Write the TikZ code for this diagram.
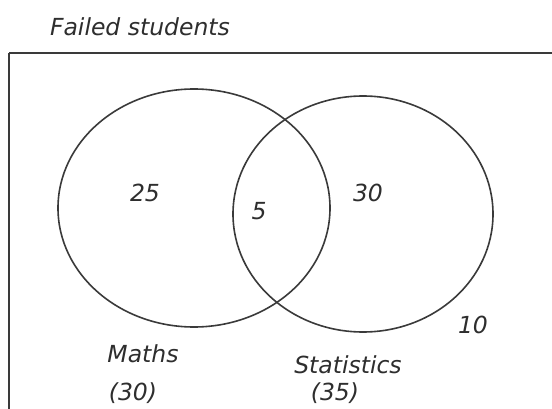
\documentclass[tikz,border=0pt]{standalone}
\usepackage{fontspec}
\setmainfont{DejaVu Sans}
\usetikzlibrary{shapes.geometric}
\definecolor{ink}{HTML}{2E2E2E}
\definecolor{lineink}{HTML}{3A3A3A}
\tikzset{
  lbl/.style={text=ink, font=\fontsize{23.5}{27}\selectfont\itshape, inner sep=0pt, anchor=center},
  setshape/.style={ellipse, draw=lineink, line width=1.6pt, inner sep=0pt},
  frame/.style={draw=lineink, line width=2.4pt}
}
\begin{document}
\begin{tikzpicture}[x=1pt,y=-1pt]
\useasboundingbox (0,0) rectangle (552,409);
\clip (0,0) rectangle (552,409);
\fill[white] (0,0) rectangle (552,409);
\draw[frame] (9,53) -- (600,53);
\draw[frame] (9,53) -- (9,460);
\node[setshape, minimum width=272pt, minimum height=238pt] (maths) at (194,208) {};
\node[setshape, minimum width=260pt, minimum height=236pt] (stats) at (363,214) {};
\node[lbl] (title) at (140,27) {Failed students};
\node[lbl] (n25) at (145,193) {25};
\node[lbl] (n5) at (259,211) {5};
\node[lbl] (n30) at (368,193) {30};
\node[lbl] (n10) at (473,325) {10};
\node[lbl] (mlab) at (143,354) {Maths};
\node[lbl] (mcnt) at (133,393) {(30)};
\node[lbl] (slab) at (348,365) {Statistics};
\node[lbl] (scnt) at (335,393) {(35)};
\end{tikzpicture}
\end{document}
